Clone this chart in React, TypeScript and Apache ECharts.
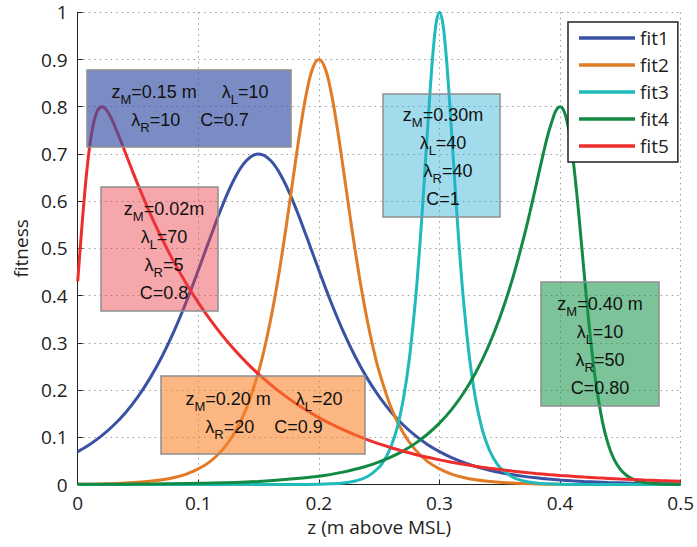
import React, { useEffect, useRef } from "react";
import * as echarts from "echarts";

// fitness vs elevation z (m above MSL), one [z, fitness] list per fit
const fit1: number[][] = [
  [0, 0.0695], [0.01, 0.0848], [0.02, 0.1034], [0.03, 0.126], [0.04, 0.1532], [0.05, 0.1861],
  [0.06, 0.2253], [0.07, 0.2716], [0.08, 0.3255], [0.09, 0.3866], [0.1, 0.4536], [0.11, 0.5234],
  [0.12, 0.5905], [0.13, 0.6475], [0.14, 0.6862], [0.15, 0.7], [0.16, 0.6862], [0.17, 0.6475],
  [0.18, 0.5905], [0.19, 0.5234], [0.2, 0.4536], [0.21, 0.3866], [0.22, 0.3255], [0.23, 0.2716],
  [0.24, 0.2253], [0.25, 0.1861], [0.26, 0.1532], [0.27, 0.126], [0.28, 0.1034], [0.29, 0.0848],
  [0.3, 0.0695], [0.31, 0.057], [0.32, 0.0467], [0.33, 0.0382], [0.34, 0.0313], [0.35, 0.0256],
  [0.36, 0.021], [0.37, 0.0172], [0.38, 0.0141], [0.39, 0.0115], [0.4, 0.0094], [0.41, 0.0077],
  [0.42, 0.0063], [0.43, 0.0052], [0.44, 0.0042], [0.45, 0.0035], [0.46, 0.0028], [0.47, 0.0023],
  [0.48, 0.0019], [0.49, 0.0016], [0.5, 0.0013],
];

const fit2: number[][] = [
  [0, 0.0006], [0.02, 0.0013], [0.04, 0.003], [0.06, 0.0067], [0.07, 0.0099], [0.08, 0.0148],
  [0.09, 0.0221], [0.1, 0.033], [0.11, 0.0491], [0.12, 0.0733], [0.13, 0.1091], [0.14, 0.162],
  [0.15, 0.2392], [0.155, 0.2896], [0.16, 0.3492], [0.165, 0.4184], [0.17, 0.4971], [0.175, 0.5833],
  [0.18, 0.6729], [0.185, 0.7592], [0.19, 0.8325], [0.195, 0.8823], [0.2, 0.9], [0.205, 0.8823],
  [0.21, 0.8325], [0.215, 0.7592], [0.22, 0.6729], [0.225, 0.5833], [0.23, 0.4971], [0.235, 0.4184],
  [0.24, 0.3492], [0.245, 0.2896], [0.25, 0.2392], [0.26, 0.162], [0.27, 0.1091], [0.28, 0.0733],
  [0.29, 0.0491], [0.3, 0.033], [0.31, 0.0221], [0.32, 0.0148], [0.33, 0.0099], [0.34, 0.0067],
  [0.36, 0.003], [0.38, 0.0013], [0.4, 0.0006], [0.45, 0.0001], [0.5, 0],
];

const fit3: number[][] = [
  [0, 0], [0.15, 0], [0.18, 0.0001], [0.2, 0.0007], [0.21, 0.0015], [0.22, 0.0033], [0.23, 0.0074],
  [0.24, 0.0165], [0.25, 0.0366], [0.255, 0.0546], [0.26, 0.0814], [0.265, 0.1212], [0.27, 0.18],
  [0.275, 0.2658], [0.28, 0.388], [0.2825, 0.4649], [0.285, 0.5523], [0.2875, 0.6481], [0.29, 0.7477],
  [0.2925, 0.8435], [0.295, 0.925], [0.2975, 0.9803], [0.3, 1], [0.3025, 0.9803], [0.305, 0.925],
  [0.3075, 0.8435], [0.31, 0.7477], [0.3125, 0.6481], [0.315, 0.5523], [0.3175, 0.4649], [0.32, 0.388],
  [0.325, 0.2658], [0.33, 0.18], [0.335, 0.1212], [0.34, 0.0814], [0.345, 0.0546], [0.35, 0.0366],
  [0.36, 0.0165], [0.37, 0.0074], [0.38, 0.0033], [0.39, 0.0015], [0.4, 0.0007], [0.42, 0.0001],
  [0.45, 0], [0.5, 0],
];

const fit4: number[][] = [
  [0, 0.0003], [0.05, 0.0009], [0.1, 0.0024], [0.15, 0.0065], [0.2, 0.0176], [0.22, 0.0262],
  [0.24, 0.0391], [0.25, 0.0478], [0.26, 0.0584], [0.27, 0.0713], [0.28, 0.0871], [0.29, 0.1064],
  [0.3, 0.1299], [0.31, 0.1587], [0.32, 0.1938], [0.33, 0.2367], [0.34, 0.2891], [0.35, 0.353],
  [0.36, 0.4306], [0.37, 0.524], [0.375, 0.5765], [0.38, 0.6321], [0.385, 0.6885], [0.39, 0.7413],
  [0.395, 0.7827], [0.3975, 0.7954], [0.4, 0.8], [0.4025, 0.7947], [0.405, 0.7776], [0.4075, 0.7475],
  [0.41, 0.7047], [0.4125, 0.65], [0.415, 0.5864], [0.4175, 0.5173], [0.42, 0.4469], [0.4225, 0.3787],
  [0.425, 0.3154], [0.4275, 0.2591], [0.43, 0.2102], [0.435, 0.1348], [0.44, 0.0844], [0.445, 0.0521],
  [0.45, 0.0319], [0.455, 0.0195], [0.46, 0.0119], [0.465, 0.0072], [0.47, 0.0044], [0.48, 0.0016],
  [0.49, 0.0006], [0.5, 0.0002],
];

const fit5: number[][] = [
  [0, 0.43], [0.002, 0.4975], [0.004, 0.5628], [0.006, 0.6227], [0.008, 0.6748], [0.01, 0.7176],
  [0.012, 0.7505], [0.014, 0.7741], [0.016, 0.7894], [0.018, 0.7976], [0.02, 0.8], [0.022, 0.7979],
  [0.024, 0.7925], [0.026, 0.7844], [0.028, 0.7746], [0.03, 0.7634], [0.035, 0.7322], [0.04, 0.6993],
  [0.045, 0.6664], [0.05, 0.6345], [0.06, 0.5744], [0.07, 0.5199], [0.08, 0.4704], [0.09, 0.4256],
  [0.1, 0.3851], [0.11, 0.3485], [0.12, 0.3153], [0.13, 0.2853], [0.14, 0.2582], [0.15, 0.2336],
  [0.16, 0.2114], [0.17, 0.1913], [0.18, 0.1731], [0.19, 0.1566], [0.2, 0.1417], [0.21, 0.1282],
  [0.22, 0.116], [0.23, 0.105], [0.24, 0.095], [0.25, 0.0859], [0.26, 0.0778], [0.27, 0.0704],
  [0.28, 0.0637], [0.29, 0.0576], [0.3, 0.0521], [0.31, 0.0472], [0.32, 0.0427], [0.33, 0.0386],
  [0.34, 0.0349], [0.35, 0.0316], [0.36, 0.0286], [0.37, 0.0259], [0.38, 0.0234], [0.39, 0.0212],
  [0.4, 0.0192], [0.41, 0.0174], [0.42, 0.0157], [0.43, 0.0142], [0.44, 0.0129], [0.45, 0.0116],
  [0.46, 0.0105], [0.47, 0.0095], [0.48, 0.0086], [0.49, 0.0078], [0.5, 0.0071],
];

const seriesNames = ["fit1", "fit2", "fit3", "fit4", "fit5"];
const seriesData = [fit1, fit2, fit3, fit4, fit5];

// parameter notes, rich-text markup: v = normal, s = subscript
const noteTexts = [
  "{v|z}{s|M}{v|=0.15 m     λ}{s|L}{v|=10}\n{v|λ}{s|R}{v|=10    C=0.7}",
  "{v|z}{s|M}{v|=0.02m}\n{v|λ}{s|L}{v|=70}\n{v|λ}{s|R}{v|=5}\n{v|C=0.8}",
  "{v|z}{s|M}{v|=0.20 m     λ}{s|L}{v|=20}\n{v|λ}{s|R}{v|=20    C=0.9}",
  "{v|z}{s|M}{v|=0.30m}\n{v|λ}{s|L}{v|=40}\n{v|  λ}{s|R}{v|=40}\n{v|C=1}",
  "{v|z}{s|M}{v|=0.40 m}\n{v|λ}{s|L}{v|=10}\n{v|λ}{s|R}{v|=50}\n{v|C=0.80}",
];

const colors = ["#3a52a3", "#e27b26", "#1fbab9", "#138a43", "#ee2d2d"];

const noteLayout = [
  { x: 87, y: 70, w: 204, h: 77, cx: 190, cy: 106, fill: "rgba(55,80,165,0.66)" },
  { x: 101, y: 187, w: 117, h: 124, cx: 164, cy: 251, fill: "rgba(235,60,70,0.45)" },
  { x: 161, y: 376, w: 204, h: 78, cx: 264, cy: 413, fill: "rgba(248,130,40,0.58)" },
  { x: 383, y: 94, w: 117, h: 123, cx: 443, cy: 157, fill: "rgba(40,175,210,0.43)" },
  { x: 541, y: 282, w: 118, h: 124, cx: 600, cy: 346, fill: "rgba(25,150,75,0.57)" },
];

const axisFont = "'Open Sans', 'DejaVu Sans', sans-serif";
const noteFont = "'Liberation Sans', Arial, sans-serif";

export default function App() {
  const ref = useRef<HTMLDivElement>(null);

  useEffect(() => {
    if (!ref.current) return;
    const chart = echarts.init(ref.current, undefined, { renderer: "svg" });

    const graphics: any[] = [];
    noteLayout.forEach((b, i) => {
      graphics.push({
        type: "rect",
        z: 100,
        shape: { x: b.x, y: b.y, width: b.w, height: b.h },
        style: { fill: b.fill, stroke: "#8e8e8e", lineWidth: 1.5 },
      });
      graphics.push({
        type: "text",
        z: 101,
        x: b.cx,
        y: b.cy,
        style: {
          text: noteTexts[i],
          align: "center",
          verticalAlign: "middle",
          textAlign: "center",
          textVerticalAlign: "middle",
          fill: "#111",
          fontFamily: noteFont,
          fontSize: 18,
          lineHeight: 28,
          rich: {
            v: { fontFamily: noteFont, fontSize: 18, lineHeight: 28, fill: "#111" },
            s: { fontFamily: noteFont, fontSize: 13, lineHeight: 14, fill: "#111", verticalAlign: "bottom" },
          },
        },
      });
    });

    const gridLine = { show: true, lineStyle: { color: "#9a9a9a", width: 1, type: [1.5, 4] as any } };

    chart.setOption({
      animation: false,
      backgroundColor: "#fff",
      grid: { left: 77.7, right: 11.3, top: 12.3, bottom: 62.5 },
      legend: {
        data: seriesNames,
        orient: "vertical",
        left: 568,
        top: 22,
        icon: "rect",
        itemWidth: 56,
        itemHeight: 3.5,
        itemGap: 7,
        padding: [6, 9, 6, 11],
        backgroundColor: "#fff",
        borderColor: "#222",
        borderWidth: 1.5,
        borderRadius: 0,
        textStyle: { fontFamily: axisFont, fontSize: 19, lineHeight: 20, color: "#222" },
      },
      xAxis: {
        type: "value",
        min: 0,
        max: 0.5,
        interval: 0.1,
        name: "z (m above MSL)",
        nameLocation: "middle",
        nameGap: 33,
        nameTextStyle: { fontFamily: axisFont, fontSize: 19, color: "#222", verticalAlign: "top" },
        axisLine: { show: true, onZero: false, lineStyle: { color: "#222", width: 1 } },
        axisTick: { show: true, inside: true, length: 5, lineStyle: { color: "#222" } },
        axisLabel: { fontFamily: axisFont, fontSize: 19, color: "#222", margin: 9 },
        splitLine: gridLine,
      },
      yAxis: {
        type: "value",
        min: 0,
        max: 1,
        interval: 0.1,
        name: "fitness",
        nameLocation: "middle",
        nameGap: 47,
        nameTextStyle: { fontFamily: axisFont, fontSize: 19, color: "#222" },
        axisLine: { show: true, onZero: false, lineStyle: { color: "#222", width: 1 } },
        axisTick: { show: true, inside: true, length: 5, lineStyle: { color: "#222" } },
        axisLabel: { fontFamily: axisFont, fontSize: 19, color: "#222", margin: 10 },
        splitLine: gridLine,
      },
      series: seriesData.map((d, i) => ({
        name: seriesNames[i],
        type: "line",
        data: d,
        showSymbol: false,
        symbol: "none",
        smooth: 0.4,
        clip: false,
        color: colors[i],
        lineStyle: { color: colors[i], width: 3 },
        z: 2 + i * 0.01,
      })),
      graphic: graphics,
    });

    return () => chart.dispose();
  }, []);

  return (
    <div
      ref={ref}
      style={{ position: "fixed", left: 0, top: 0, width: 697, height: 547, background: "#fff" }}
    />
  );
}
